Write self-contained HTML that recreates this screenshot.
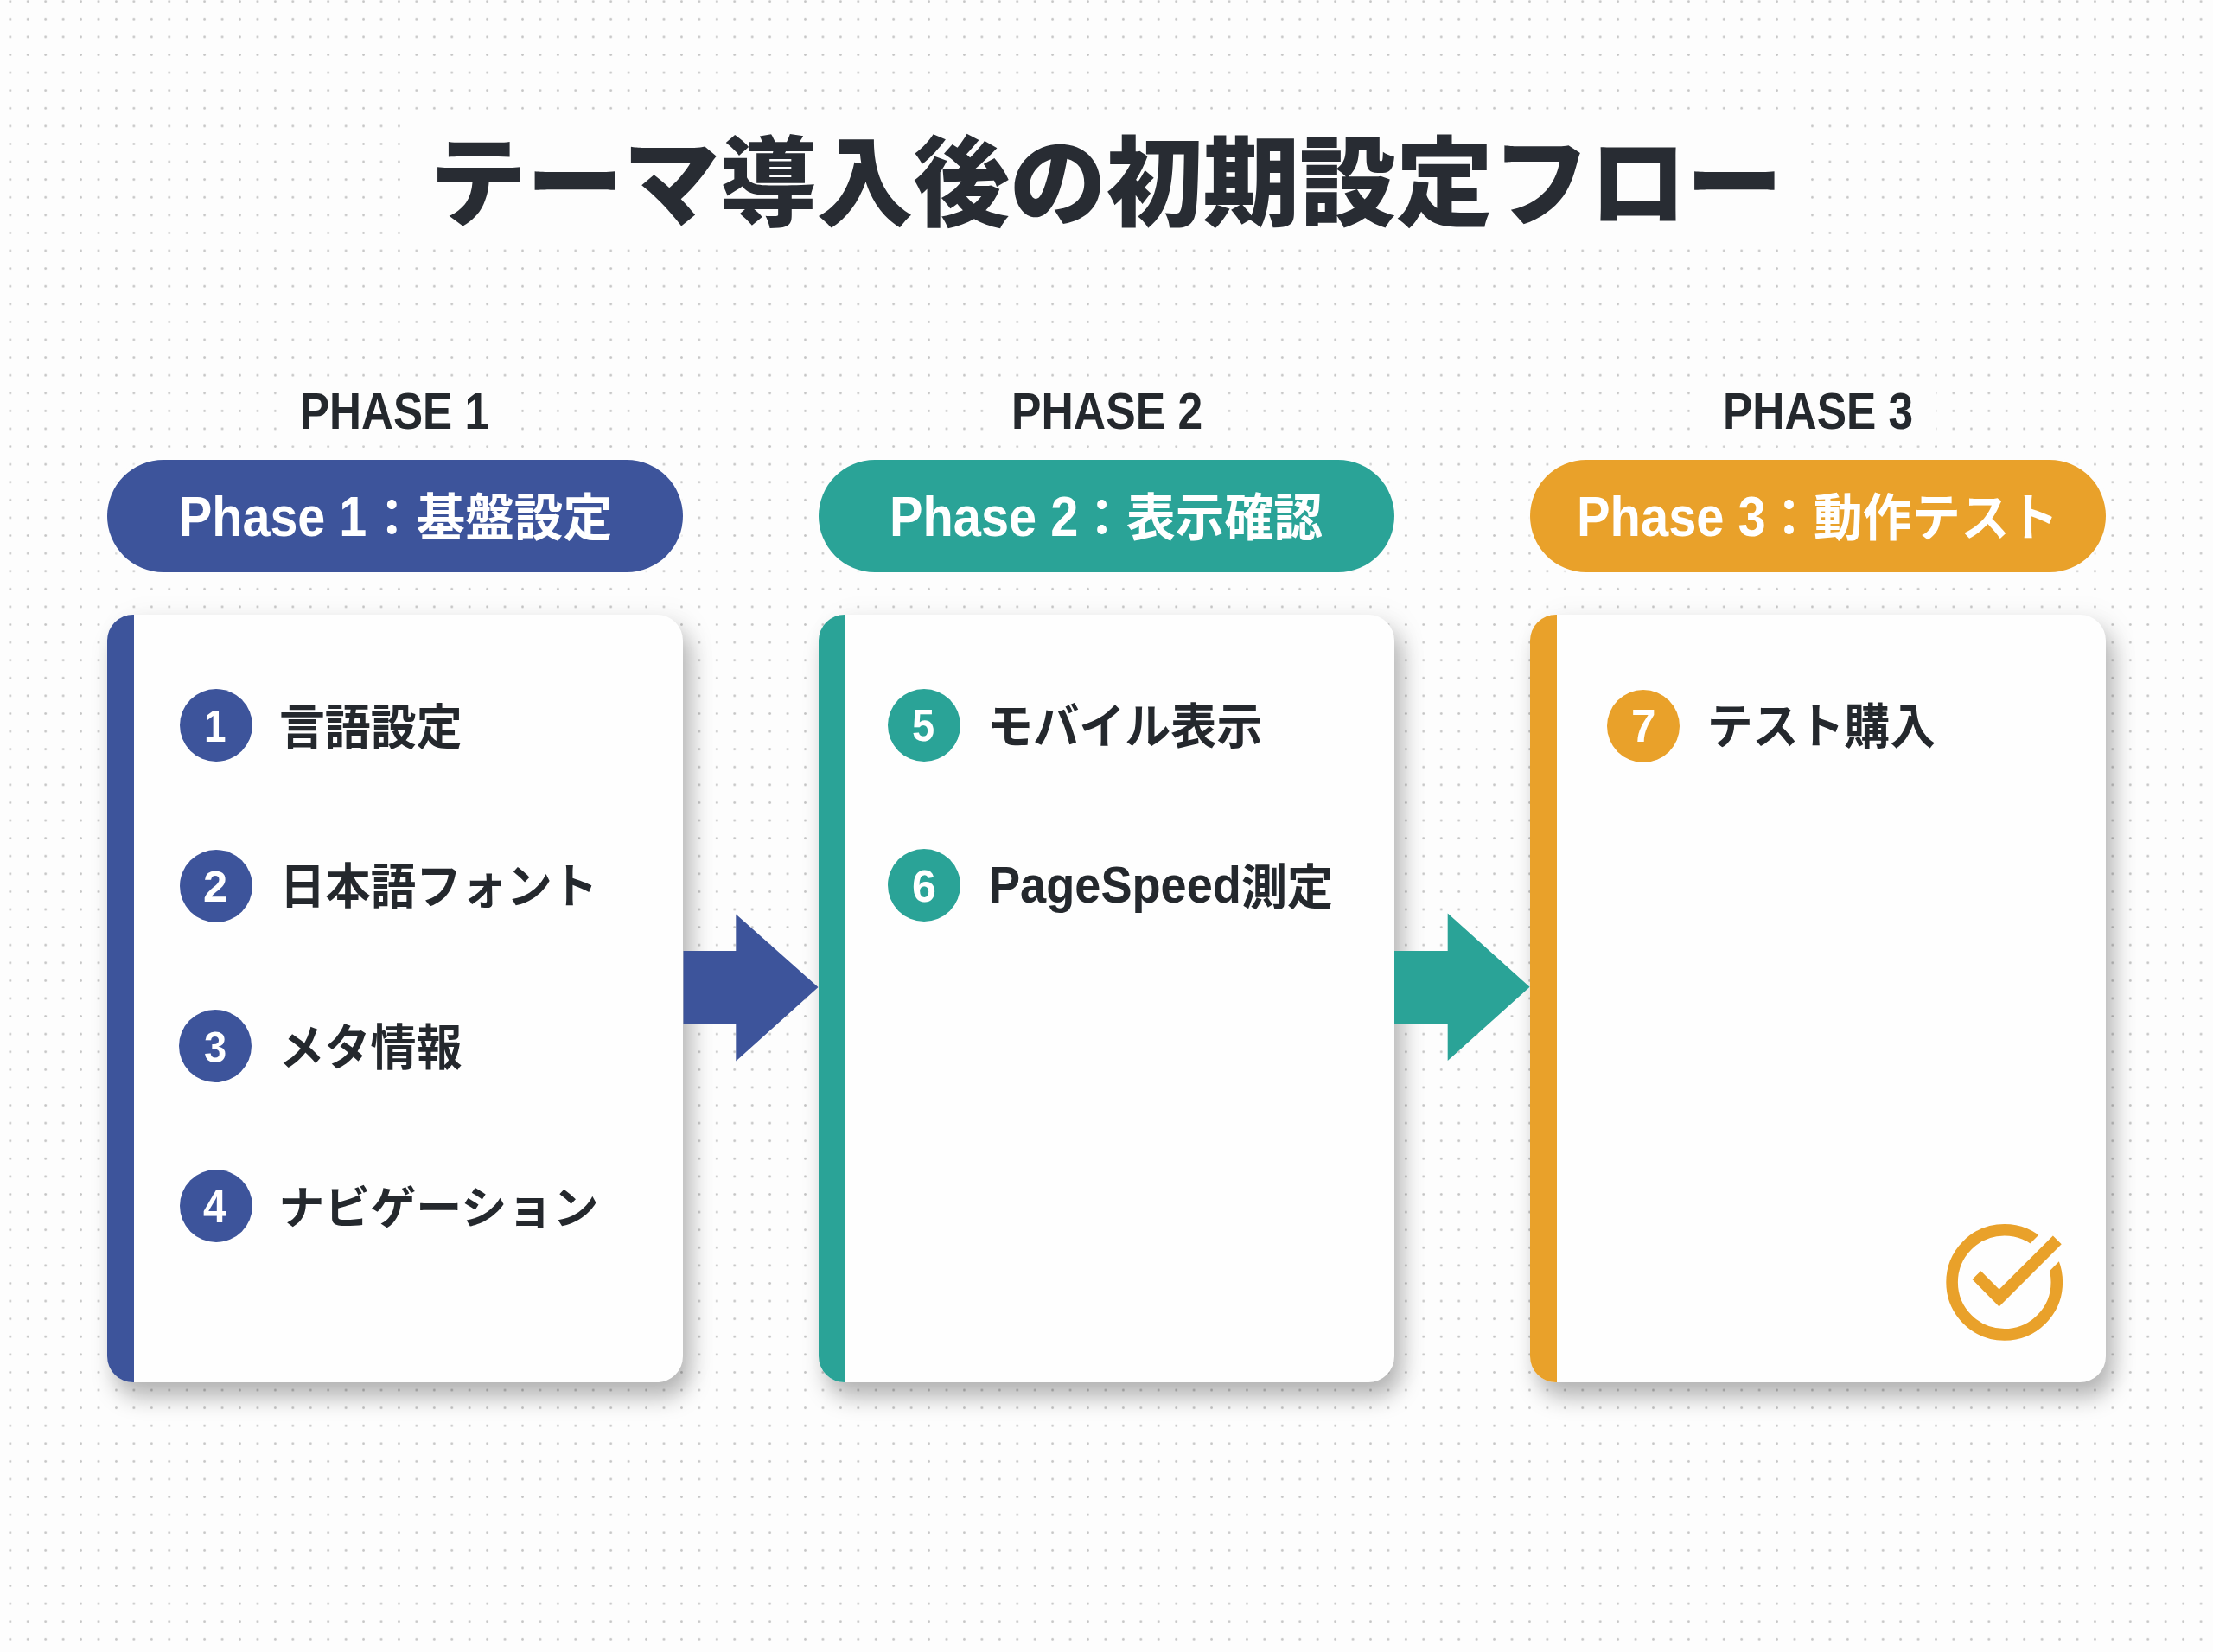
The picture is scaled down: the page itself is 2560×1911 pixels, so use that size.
<!DOCTYPE html>
<html lang="ja">
<head>
<meta charset="utf-8">
<title>テーマ導入後の初期設定フロー</title>
<style>
*{margin:0;padding:0;box-sizing:border-box}
html,body{width:2560px;height:1911px;overflow:hidden}
body{
  position:relative;
  background-color:#fdfdfd;
  background-image:radial-gradient(circle,#c4c4c4 0,#c4c4c4 0.9px,rgba(196,196,196,0) 1.8px);
  background-size:20.45px 20.6px;
  background-position:1.6px 12px;
  font-family:"Liberation Sans","Noto Sans CJK JP",sans-serif;
  color:#24282d;
}
.abs{position:absolute}
.t{position:absolute;white-space:nowrap;line-height:1;font-weight:700;transform-origin:0 0;color:#24282d}
.w{color:#fff}
.title{font-weight:900;color:#282c33}
.titlebg{left:472px;top:130px;width:1615px;height:152px;background:#fdfdfd;box-shadow:0 0 3px 1px #fdfdfd}
.lbg{top:447px;width:270px;height:67px;background:#fdfdfd;box-shadow:0 0 3px 1px #fdfdfd}
.pill{width:665.5px;height:130px;top:531.7px;border-radius:65px;box-shadow:0 0 5px 4px #fdfdfd}
.card{width:666px;height:888px;top:711px;border-radius:30px;background:#fefefe;box-shadow:8px 18px 26px rgba(0,0,0,.27),12px 0 32px rgba(0,0,0,.05);overflow:hidden}
.card::before{content:"";position:absolute;left:0;top:0;bottom:0;width:31px}
.c1{left:124.3px}.c2{left:947.2px}.c3{left:1770px}
.b1{background:#3d549b}.b2{background:#2aa397}.b3{background:#e9a12a}
.card.k1::before{background:#3d549b}.card.k2::before{background:#2aa397}.card.k3::before{background:#e9a12a}
.num{width:84px;height:84px;border-radius:50%}
</style>
</head>
<body>
<div class="abs titlebg"></div>
<div class="t title" style="left:497.26px;top:157.43px;font-size:111.79px;transform:scale(1.0,1.011)">テーマ導入後の初期設定フロー</div>

<div class="abs lbg" style="left:322px"></div><div class="abs lbg" style="left:1146px"></div><div class="abs lbg" style="left:1969px"></div>
<div class="t " style="left:347.32px;top:446.46px;font-size:59.58px;transform:scale(0.8585,1.0)">PHASE 1</div>
<div class="t " style="left:1169.88px;top:446.22px;font-size:59.86px;transform:scale(0.8637,1.0)">PHASE 2</div>
<div class="t " style="left:1993.2px;top:446.22px;font-size:59.86px;transform:scale(0.8597,1.0)">PHASE 3</div>

<div class="abs pill b1 c1"></div>
<div class="abs pill b2 c2"></div>
<div class="abs pill b3 c3"></div>
<div class="t w" style="left:206.88px;top:564.6px;font-size:65.0px;transform:scale(0.8842,1.0)">Phase 1</div><div class="t w" style="left:424.99px;top:571.0px;font-size:56.62px;transform:scale(1.0,1.041)">：基盤設定</div>
<div class="t w" style="left:1029.36px;top:564.6px;font-size:65.0px;transform:scale(0.8887,1.0)">Phase 2</div><div class="t w" style="left:1246.24px;top:571.0px;font-size:56.74px;transform:scale(1.0,1.0387)">：表示確認</div>
<div class="t w" style="left:1824.05px;top:564.77px;font-size:65.27px;transform:scale(0.8871,1.0)">Phase 3</div><div class="t w" style="left:2041.37px;top:571.2px;font-size:56.65px;transform:scale(1.0,1.0387)">：動作テスト</div>


<div class="abs card k1 c1"></div>
<div class="abs card k2 c2"></div>
<div class="abs card k3 c3"></div>

<svg class="abs" style="left:0;top:0" width="2560" height="1911" viewBox="0 0 2560 1911">
  <polygon fill="#3d549b" points="790.5,1100 851.3,1100 851.3,1057.5 946.5,1142 851.3,1227.5 851.3,1184 790.5,1184"/>
  <polygon fill="#2aa397" points="1613,1100 1674.7,1100 1674.7,1056.6 1769.6,1141.8 1674.7,1227.1 1674.7,1184 1613,1184"/>
</svg>

<div class="abs num b1" style="left:207.6px;top:797.3px"></div><div class="t w" style="left:236.04px;top:815.14px;font-size:51.59px;transform:scale(0.8907,1.0)">1</div><div class="t " style="left:322.95px;top:814.5px;font-size:52.92px;transform:scale(1.0,1.0555)">言語設定</div>
<div class="abs num b1" style="left:207.6px;top:982.8px"></div><div class="t w" style="left:235.08px;top:1001.07px;font-size:50.86px;transform:scale(0.9952,1.0)">2</div><div class="t " style="left:323.82px;top:999.0px;font-size:52.5px;transform:scale(1.0,1.0557)">日本語フォント</div>
<div class="abs num b1" style="left:207.4px;top:1167.9px"></div><div class="t w" style="left:235.66px;top:1186.67px;font-size:50.85px;transform:scale(0.9244,1.0)">3</div><div class="t " style="left:322.4px;top:1183.8px;font-size:53.02px;transform:scale(1.0,1.0635)">メタ情報</div>
<div class="abs num b1" style="left:207.9px;top:1352.5px"></div><div class="t w" style="left:235.23px;top:1369.09px;font-size:53.19px;transform:scale(0.9081,1.0)">4</div><div class="t " style="left:322.23px;top:1370.93px;font-size:53.05px;transform:scale(1.0,0.9947)">ナビゲーション</div>

<div class="abs num b2" style="left:1027.2px;top:797.2px"></div><div class="t w" style="left:1055.39px;top:814.35px;font-size:51.57px;transform:scale(0.9114,1.0)">5</div><div class="t " style="left:1142.06px;top:812.9px;font-size:53.08px;transform:scale(1.0,1.0542)">モバイル表示</div>
<div class="abs num b2" style="left:1027.2px;top:982.2px"></div><div class="t w" style="left:1054.79px;top:1000.17px;font-size:51.55px;transform:scale(0.974,1.0)">6</div><div class="t " style="left:1144.11px;top:993.79px;font-size:59.26px;transform:scale(0.9136,1.0)">PageSpeed</div><div class="t " style="left:1436.01px;top:999.2px;font-size:53.11px;transform:scale(1.0,1.0376)">測定</div>

<div class="abs num b3" style="left:1859.2px;top:797.5px"></div><div class="t w" style="left:1886.95px;top:813.31px;font-size:53.09px;transform:scale(0.9659,1.0)">7</div><div class="t " style="left:1974.74px;top:813.8px;font-size:52.89px;transform:scale(1.0,1.0459)">テスト購入</div>

<svg class="abs" style="left:2240px;top:1400px" width="170" height="170" viewBox="2240 1400 170 170">
  <circle cx="2318.7" cy="1483.3" r="60.6" fill="none" stroke="#e9a12a" stroke-width="13.6"/>
  <path d="M2312.6 1501.5 L2395 1419" fill="none" stroke="#fefefe" stroke-width="38.5"/>
  <path d="M2286.5 1475.1 L2312.6 1501.5 L2379.8 1434.4" fill="none" stroke="#e9a12a" stroke-width="14" stroke-linejoin="miter"/>
</svg>
</body>
</html>
